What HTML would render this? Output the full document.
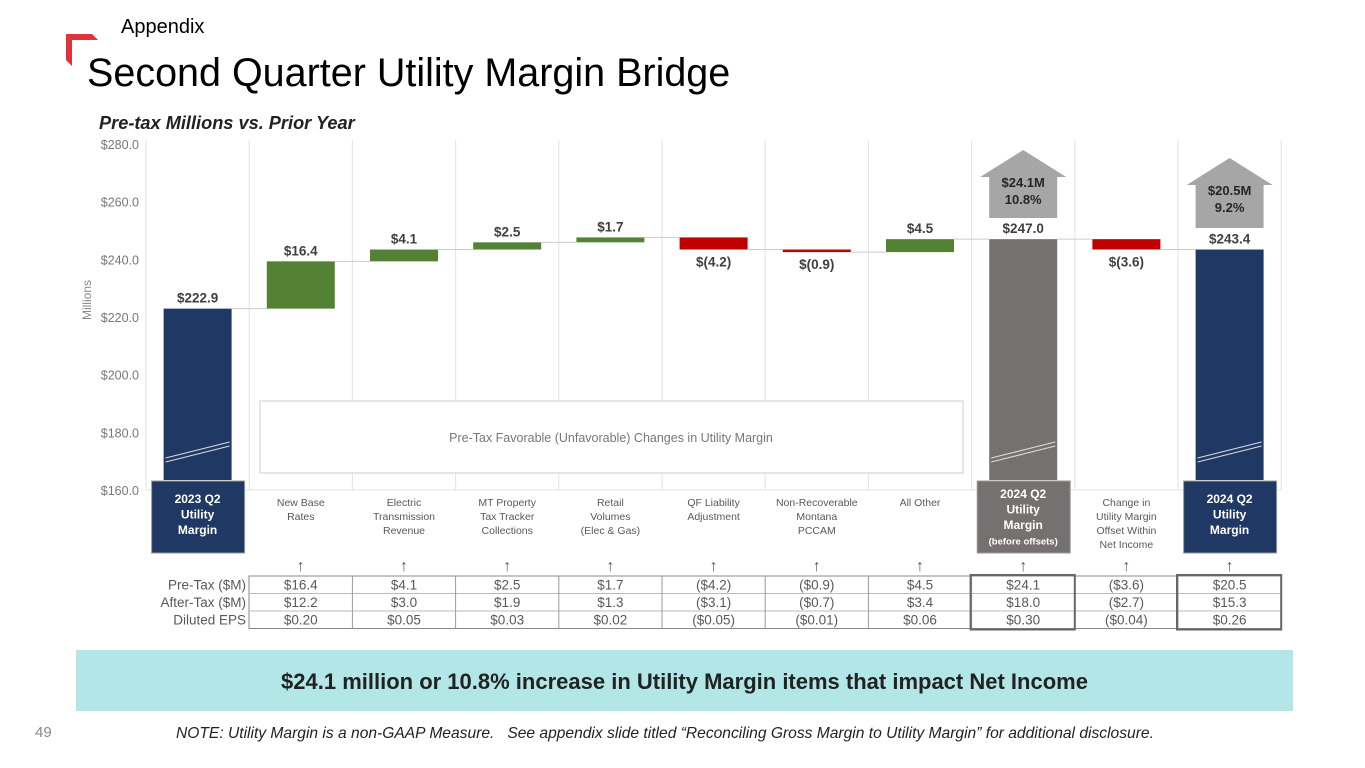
<!DOCTYPE html>
<html><head><meta charset="utf-8">
<style>
body{margin:0;width:1365px;height:768px;background:#fff;font-family:"Liberation Sans",sans-serif;position:relative;overflow:hidden}
.abs{position:absolute}
</style></head><body>
<svg class="abs" style="left:64px;top:32px" width="36" height="36"><polygon points="2,2 28,2 34,8 8,8 8,34 2,28" fill="#e2313a"/></svg>
<div class="abs" style="left:121px;top:16px;font-size:20px">Appendix</div>
<div class="abs" style="left:87px;top:51px;font-size:39.5px">Second Quarter Utility Margin Bridge</div>
<div class="abs" style="left:99px;top:113px;font-size:18.2px;font-style:italic;font-weight:bold;color:#222">Pre-tax Millions vs. Prior Year</div>
<svg id="chart" class="abs" style="left:0;top:0" width="1365" height="640"></svg>
<div class="abs" style="left:76px;top:650px;width:1217px;height:61px;background:#b3e6e6;font-weight:bold;font-size:22px;text-align:center;line-height:63px;color:#222">$24.1 million or 10.8% increase in Utility Margin items that impact Net Income</div>
<div class="abs" style="left:35px;top:724px;font-size:15px;color:#888">49</div>
<div class="abs" style="left:176px;top:725px;font-size:15.6px;font-style:italic;color:#222;white-space:nowrap">NOTE: Utility Margin is a non-GAAP Measure.&nbsp;&nbsp; See appendix slide titled “Reconciling Gross Margin to Utility Margin” for additional disclosure.</div>
<script>
const categories=["2023 Q2|Utility|Margin","New Base|Rates","Electric|Transmission|Revenue","MT Property|Tax Tracker|Collections","Retail|Volumes|(Elec & Gas)","QF Liability|Adjustment","Non-Recoverable|Montana|PCCAM","All Other","2024 Q2|Utility|Margin|(before offsets)","Change in|Utility Margin|Offset Within|Net Income","2024 Q2|Utility|Margin"];
const kinds=["total","delta","delta","delta","delta","delta","delta","delta","total","delta","total"];
const values=[222.9,16.4,4.1,2.5,1.7,-4.2,-0.9,4.5,247.0,-3.6,243.4];
const barLabels=["$222.9","$16.4","$4.1","$2.5","$1.7","$(4.2)","$(0.9)","$4.5","$247.0","$(3.6)","$243.4"];
const yTicks=[160,180,200,220,240,260,280];
const preTax=["$16.4","$4.1","$2.5","$1.7","($4.2)","($0.9)","$4.5","$24.1","($3.6)","$20.5"];
const afterTax=["$12.2","$3.0","$1.9","$1.3","($3.1)","($0.7)","$3.4","$18.0","($2.7)","$15.3"];
const eps=["$0.20","$0.05","$0.03","$0.02","($0.05)","($0.01)","$0.06","$0.30","($0.04)","$0.26"];
const calloutTop=["$24.1M","$20.5M"];
const calloutBot=["10.8%","9.2%"];

const svg=document.getElementById('chart');const NS='http://www.w3.org/2000/svg';
function mk(t,a,p){const e=document.createElementNS(NS,t);for(const k in a)e.setAttribute(k,a[k]);(p||svg).appendChild(e);return e;}
const y=v=>490-(v-160)*(346/120);
const x0=146,cw=103.2;const cx=i=>x0+cw*(i+0.5);
for(let i=0;i<=11;i++){const l=mk('line',{x1:x0+cw*i,x2:x0+cw*i,y1:140,y2:490,stroke:'#e3e3e3','stroke-width':1});
}
mk('line',{x1:x0,x2:1281,y1:490,y2:490,stroke:'#e3e3e3'});
yTicks.forEach(t=>{const e=mk('text',{x:139,y:y(t)+5,'text-anchor':'end','font-size':12.5,fill:'#777'});e.textContent='$'+t.toFixed(1);
});
const yt=mk('text',{x:91,y:300,'font-size':12,fill:'#888',transform:'rotate(-90 91 300)','text-anchor':'middle'});yt.textContent='Millions';

const lb=mk('rect',{x:260,y:401,width:703,height:72,fill:'#fff',stroke:'#ccc'});

const lt=mk('text',{x:611,y:442,'text-anchor':'middle','font-size':12.5,fill:'#777'});lt.textContent='Pre-Tax Favorable (Unfavorable) Changes in Utility Margin';

let run=0;const bw=68;
const totColor=['#1f3864',null,null,null,null,null,null,null,'#767171',null,'#1f3864'];
let ci=0;
values.forEach((v,i)=>{
 let top,bot,fill;
 if(kinds[i]==='total'){run=v;top=y(v);bot=480;fill=totColor[i];}
 else{const a=run,b=run+v;run=b;top=y(Math.max(a,b));bot=y(Math.min(a,b));fill=v>=0?'#548235':'#c00000';if(bot-top<2)bot=top+2;}
 const r=mk('rect',{x:cx(i)-bw/2,y:top,width:bw,height:bot-top,fill:fill});
 
 if(i<values.length-1){const nt=y(kinds[i]==='total'?v:run);mk('line',{x1:cx(i)+bw/2,x2:cx(i+1)-bw/2,y1:nt,y2:nt,stroke:'#ccc'});}
 const below=kinds[i]==='delta'&&v<0;
 const tl=mk('text',{x:cx(i),y:below?bot+17:top-6,'text-anchor':'middle','font-size':13.5,'font-weight':'bold',fill:'#404040'});tl.textContent=barLabels[i];
 
 const lines=categories[i].split('|');
 if(kinds[i]==='total'){
  mk('line',{x1:cx(i)-bw/2+2,x2:cx(i)+bw/2-2,y1:462,y2:446,stroke:'#ddd','stroke-width':1});
  mk('line',{x1:cx(i)-bw/2+2,x2:cx(i)+bw/2-2,y1:458,y2:442,stroke:'#ddd','stroke-width':1});
  const bx=mk('rect',{x:cx(i)-46,y:481,width:93,height:72,fill:fill,stroke:'#999'});
  
  const st=lines.length===4?498:503;
  lines.forEach((s,k)=>{const t=mk('text',{x:cx(i),y:st+k*15.5,'text-anchor':'middle','font-size':k===3?9.5:12,'font-weight':'bold',fill:'#fff'});t.textContent=s;});
  if(i>0){
   const hx=cx(i),hb=i===8?218:228,ht=i===8?150:158;
   const h=mk('polygon',{points:`${hx-43},${ht+27} ${hx},${ht} ${hx+43},${ht+27} ${hx+34},${ht+27} ${hx+34},${hb} ${hx-34},${hb} ${hx-34},${ht+27}`,fill:'#a6a6a6'});
   
   const a=mk('text',{x:hx,y:ht+37,'text-anchor':'middle','font-size':13,'font-weight':'bold',fill:'#262626'});a.textContent=calloutTop[ci];
   const b=mk('text',{x:hx,y:ht+54,'text-anchor':'middle','font-size':13,'font-weight':'bold',fill:'#262626'});b.textContent=calloutBot[ci];ci++;
  }
 } else {
  lines.forEach((s,k)=>{const t=mk('text',{x:cx(i),y:506+k*14,'text-anchor':'middle','font-size':10.5,fill:'#595959'});t.textContent=s;});
 }
 if(i>0){const ar=mk('text',{x:cx(i),y:571,'text-anchor':'middle','font-size':16,'font-weight':'bold',fill:'#595959'});ar.textContent='↑';}
});
const rows=[preTax,afterTax,eps],rn=["Pre-Tax ($M)","After-Tax ($M)","Diluted EPS"];
const ty=576,rh=17.5;
mk('rect',{x:249,y:ty,width:1032,height:rh*3,fill:'none',stroke:'#888'});
for(let r=1;r<3;r++)mk('line',{x1:249,x2:1281,y1:ty+rh*r,y2:ty+rh*r,stroke:'#bbb'});
for(let c=1;c<10;c++)mk('line',{x1:x0+cw*(c+1),x2:x0+cw*(c+1),y1:ty,y2:ty+rh*3,stroke:'#999'});
[8,10].forEach(c=>{const bx=mk('rect',{x:x0+cw*c-1,y:ty-1,width:cw+1,height:rh*3+2,fill:'none',stroke:'#666','stroke-width':2});
});
rows.forEach((arr,r)=>{
 const l=mk('text',{x:246,y:ty+rh*r+13.5,'text-anchor':'end','font-size':13.5,fill:'#595959'});l.textContent=rn[r];
 
 arr.forEach((s,c)=>{const t=mk('text',{x:cx(c+1),y:ty+rh*r+13.5,'text-anchor':'middle','font-size':13.5,fill:'#595959'});t.textContent=s;
 });
});
</script>
</body></html>
